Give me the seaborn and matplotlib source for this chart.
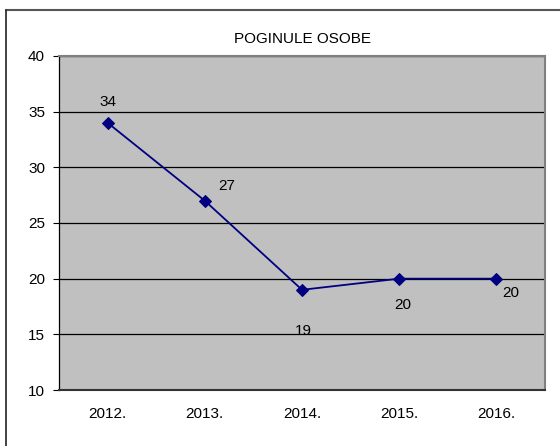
import matplotlib
matplotlib.use("Agg")
import matplotlib.pyplot as plt
import seaborn as sns
import pandas as pd
from matplotlib.lines import Line2D
from matplotlib.ticker import FixedLocator, NullFormatter

years = ["2012.", "2013.", "2014.", "2015.", "2016."]
values = [34, 27, 19, 20, 20]
title = "POGINULE OSOBE"

# label offsets in pixels (style only)
label_offsets = [(0, 21), (22, 15), (1, -41), (4, -26), (14, -14)]

sns.set_style("white")
plt.rcParams["font.family"] = ["Liberation Sans", "DejaVu Sans"]
plt.rcParams["text.color"] = "black"
plt.rcParams["xtick.color"] = "black"
plt.rcParams["ytick.color"] = "black"
plt.rcParams["xtick.labelcolor"] = "black"
plt.rcParams["ytick.labelcolor"] = "black"

FS = 11

fig = plt.figure(figsize=(5.6, 4.46), dpi=100)
ax = fig.add_axes([59/560, 1-390/446, 486/560, 334/446])
ax.set_facecolor("#c0c0c0")

df = pd.DataFrame({"pos": range(len(years)), "val": values})
sns.lineplot(data=df, x="pos", y="val", ax=ax, color="#000080", marker="D",
             markersize=6, markeredgecolor="#000080", linewidth=1.3)

ax.set_xlim(-0.5, len(years) - 0.5)
ax.set_ylim(10, 40)
ax.set_yticks([10, 15, 20, 25, 30, 35, 40])
for y in [15, 20, 25, 30, 35, 40]:
    ax.axhline(y, color="black", linewidth=0.9, zorder=1)

ax.set_xticks(range(len(years)))
ax.set_xticklabels(years)
ax.xaxis.set_minor_locator(FixedLocator([i - 0.5 for i in range(len(years) + 1)]))
ax.xaxis.set_minor_formatter(NullFormatter())
ax.tick_params(axis="x", which="major", length=0, pad=12, labelsize=FS, labelcolor="black")
ax.tick_params(axis="x", which="minor", length=4, width=0.8, color="#333333", direction="out")
ax.tick_params(axis="y", length=4, width=0.8, direction="out", left=True, labelsize=FS,
               pad=6, color="black", labelcolor="black")
ax.set_xlabel("")
ax.set_ylabel("")

for side in ["top", "right"]:
    ax.spines[side].set_color("#808080")
    ax.spines[side].set_linewidth(1.5)
ax.spines["left"].set_color("black")
ax.spines["left"].set_linewidth(0.9)
ax.spines["bottom"].set_color("#333333")
ax.spines["bottom"].set_linewidth(1.5)

for i, (v, off) in enumerate(zip(values, label_offsets)):
    ax.annotate(str(v), (i, v), xytext=(off[0]*0.72, off[1]*0.72),
                textcoords="offset points", ha="center", va="center",
                fontsize=FS, color="black")

fig.text((59 + 486/2)/560, 1 - 39/446, title, ha="center", va="center",
         fontsize=FS, color="black")

# outer border (top and left visible)
fig.add_artist(Line2D([6/560, 1.0], [1-10/446, 1-10/446], transform=fig.transFigure,
                      color="#555555", linewidth=1.5))
fig.add_artist(Line2D([6/560, 6/560], [0.0, 1-10/446], transform=fig.transFigure,
                      color="#222222", linewidth=1.2))

fig.savefig("out.png", dpi=100)
